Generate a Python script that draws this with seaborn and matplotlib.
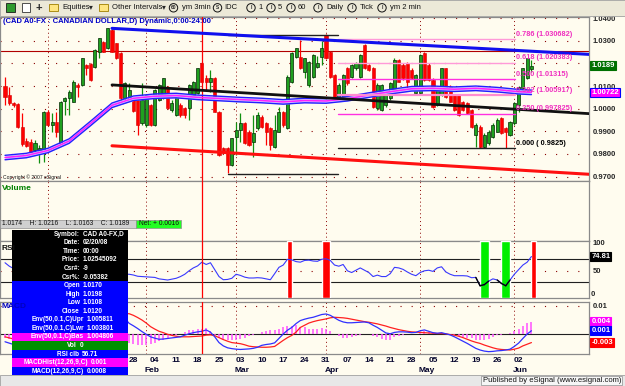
import numpy as np
import pandas as pd
import matplotlib
matplotlib.use("Agg")
import matplotlib.pyplot as plt
import seaborn as sns
from matplotlib.patches import Rectangle, Circle
from matplotlib.transforms import blended_transform_factory

# ---------------- data ----------------
dates = pd.bdate_range("2007-12-17", "2008-06-05")   # 124 daily bars

opens = [1.0102, 1.0060, 1.0024, 1.0019, 0.9921, 0.9857, 0.9854, 0.9817, 0.9807, 0.9817,
         0.9987, 0.9928, 0.9943, 0.9847, 1.0034, 1.0046, 1.0031, 1.0105, 1.0105, 1.0193,
         1.0196, 1.0186, 1.0252, 1.0296, 1.0267, 1.0348, 1.0289, 1.0245, 1.0046, 1.0046,
         1.0046, 1.0038, 0.9935, 0.9928, 1.0016, 0.9928, 1.0038, 1.0046, 1.0097, 0.9994,
         0.9972, 1.0016, 1.0002, 1.0002, 1.0060, 1.0068, 1.0200, 1.0134, 1.0119, 1.0134,
         0.9987, 0.9825, 0.9825, 0.9751, 0.9876, 0.9906, 0.9935, 0.9898, 0.9854, 0.9913,
         0.9965, 0.9935, 0.9913, 0.9832, 0.9898, 0.9987, 0.9913, 1.0119, 1.0230, 1.0230,
         1.0164, 1.0105, 1.0142, 1.0186, 1.0230, 1.0326, 1.0252, 1.0149, 1.0038, 1.0053,
         1.0178, 1.0142, 1.0178, 1.0142, 1.0281, 1.0193, 1.0178, 1.0002, 0.9994, 1.0016,
         1.0046, 1.0075, 1.0215, 1.0193, 1.0200, 1.0171, 1.0068, 1.0068, 1.0245, 1.0193,
         1.0127, 1.0016, 1.0060, 1.0178, 1.0097, 1.0060, 1.0060, 1.0031, 1.0024, 0.9994,
         0.9884, 0.9921, 0.9832, 0.9847, 0.9876, 0.9898, 0.9957, 0.9913, 0.9884, 0.9935,
         1.0016, 1.0090, 1.0134, 1.0174]
highs = [1.0142, 1.0097, 1.0028, 1.0024, 0.9979, 0.9869, 0.9866, 0.9862, 0.9840, 0.9990,
         0.9994, 0.9979, 0.9987, 1.0034, 1.0053, 1.0083, 1.0127, 1.0112, 1.0226, 1.0196,
         1.0200, 1.0262, 1.0314, 1.0299, 1.0358, 1.0351, 1.0292, 1.0249, 1.0119, 1.0112,
         1.0053, 1.0043, 1.0112, 1.0063, 1.0019, 1.0087, 1.0108, 1.0137, 1.0102, 1.0038,
         1.0063, 1.0024, 1.0009, 1.0108, 1.0122, 1.0181, 1.0208, 1.0149, 1.0171, 1.0142,
         0.9990, 0.9832, 0.9832, 0.9872, 0.9943, 0.9979, 0.9940, 0.9906, 0.9972, 0.9987,
         0.9972, 0.9943, 0.9921, 0.9972, 1.0009, 0.9990, 1.0149, 1.0252, 1.0270, 1.0304,
         1.0226, 1.0211, 1.0240, 1.0234, 1.0299, 1.0329, 1.0255, 1.0152, 1.0112, 1.0152,
         1.0186, 1.0196, 1.0208, 1.0240, 1.0284, 1.0196, 1.0186, 1.0112, 1.0108, 1.0078,
         1.0119, 1.0223, 1.0219, 1.0200, 1.0208, 1.0178, 1.0152, 1.0240, 1.0249, 1.0200,
         1.0134, 1.0101, 1.0181, 1.0181, 1.0105, 1.0063, 1.0063, 1.0034, 1.0028, 0.9997,
         0.9935, 0.9928, 0.9891, 0.9906, 0.9935, 0.9957, 0.9965, 0.9921, 0.9946, 1.0028,
         1.0101, 1.0181, 1.0226, 1.0216]
lows = [1.0016, 1.0016, 1.0009, 0.9913, 0.9837, 0.9832, 0.9807, 0.9810, 0.9758, 0.9766,
        0.9925, 0.9898, 0.9876, 0.9843, 0.9972, 0.9972, 1.0028, 1.0053, 1.0102, 1.0149,
        1.0122, 1.0178, 1.0223, 1.0249, 1.0264, 1.0249, 1.0220, 1.0038, 1.0038, 1.0038,
        0.9984, 0.9884, 0.9928, 0.9921, 0.9925, 0.9925, 1.0034, 1.0043, 0.9999, 0.9987,
        0.9969, 0.9965, 0.9957, 0.9950, 1.0057, 1.0063, 1.0112, 1.0083, 1.0075, 0.9984,
        0.9792, 0.9803, 0.9714, 0.9748, 0.9795, 0.9854, 0.9843, 0.9837, 0.9788, 0.9906,
        0.9913, 0.9840, 0.9817, 0.9828, 0.9895, 0.9921, 0.9910, 1.0112, 1.0225, 1.0175,
        1.0134, 1.0097, 1.0137, 1.0178, 1.0193, 1.0220, 1.0137, 1.0043, 1.0034, 1.0049,
        1.0105, 1.0134, 1.0171, 1.0137, 1.0175, 1.0167, 1.0002, 0.9994, 0.9990, 1.0009,
        1.0038, 1.0072, 1.0116, 1.0127, 1.0083, 1.0131, 1.0063, 1.0063, 1.0122, 1.0122,
        1.0005, 1.0013, 1.0057, 1.0049, 1.0028, 0.9990, 0.9969, 0.9990, 0.9975, 0.9916,
        0.9832, 0.9825, 0.9828, 0.9840, 0.9872, 0.9895, 0.9887, 0.9825, 0.9881, 0.9928,
        0.9987, 1.0086, 1.0131, 1.0163]
closes = [1.0053, 1.0024, 1.0016, 0.9921, 0.9843, 0.9837, 0.9810, 0.9847, 0.9825, 0.9987,
          0.9928, 0.9943, 0.9898, 1.0028, 1.0049, 1.0075, 1.0119, 1.0097, 1.0223, 1.0178,
          1.0127, 1.0259, 1.0311, 1.0252, 1.0355, 1.0252, 1.0223, 1.0046, 1.0112, 1.0083,
          0.9990, 0.9928, 1.0038, 1.0060, 0.9928, 1.0083, 1.0105, 1.0134, 1.0002, 1.0024,
          1.0060, 0.9972, 0.9972, 1.0105, 1.0119, 1.0178, 1.0119, 1.0119, 1.0134, 0.9987,
          0.9795, 0.9810, 0.9751, 0.9869, 0.9906, 0.9935, 0.9847, 0.9840, 0.9891, 0.9972,
          0.9921, 0.9898, 0.9840, 0.9906, 0.9987, 0.9928, 1.0142, 1.0245, 1.0267, 1.0178,
          1.0223, 1.0208, 1.0237, 1.0200, 1.0267, 1.0223, 1.0142, 1.0046, 1.0105, 1.0149,
          1.0112, 1.0193, 1.0200, 1.0237, 1.0178, 1.0171, 1.0009, 1.0105, 1.0105, 1.0068,
          1.0112, 1.0215, 1.0119, 1.0134, 1.0119, 1.0134, 1.0149, 1.0237, 1.0127, 1.0127,
          1.0009, 1.0097, 1.0178, 1.0053, 1.0031, 0.9994, 0.9972, 0.9994, 0.9979, 0.9921,
          0.9928, 0.9832, 0.9884, 0.9898, 0.9928, 0.9950, 0.9891, 0.9898, 0.9943, 1.0024,
          1.0097, 1.0178, 1.0223, 1.0189]

# Envelope(50, 0.1%) basis, read every fifth bar
env_days = [0, 5, 10, 15, 20, 25, 30, 35, 40, 45, 50, 55, 60, 65, 70, 75, 80, 85,
            90, 95, 100, 105, 110, 115, 120, 123]
env_basis = [0.9784, 0.9793, 0.9815, 0.9857, 0.9935, 1.0015, 1.0046, 1.0055, 1.0058,
             1.0050, 1.0045, 1.0040, 1.0036, 1.0030, 1.0036, 1.0034, 1.0044, 1.0060,
             1.0075, 1.0088, 1.0090, 1.0086, 1.0090, 1.0084, 1.0075, 1.00722]
env_pct = 0.001

rsi_values = [64, 58, 54, 45, 38, 37, 35, 38, 36, 52, 48, 49, 46, 58, 60, 61, 65, 63, 70, 68,
              64, 70, 73, 71, 75, 66, 60, 45, 44, 44, 42.7, 40.5, 40, 39.5, 39, 38.5, 36, 35,
              34, 35.5, 37, 40, 44, 50, 55, 58.5, 65, 61, 64, 52, 40, 34.5, 35, 37, 44, 42,
              39, 37.5, 37.5, 38, 37.5, 36, 34.5, 45, 56, 60, 70, 69, 66, 65, 68, 68.5, 67,
              66.5, 70, 71, 68, 60, 58, 61, 50, 47, 51, 55, 51, 47, 40, 42.5, 40, 40, 45, 56,
              55, 52.5, 48, 44, 41.5, 47, 50, 51, 49, 55, 57, 48, 44, 41.5, 41.5, 41.5, 41,
              38, 38.5, 24, 26, 32, 36, 34, 28, 24, 34, 44, 52, 60, 65, 74.81]
macd_values = [-0.0030, -0.0035, -0.0040, -0.0045, -0.0052, -0.0058, -0.0062, -0.0063, -0.0062,
               -0.0052, -0.0045, -0.0040, -0.0036, -0.0022, -0.0010, 0.0001, 0.0015, 0.0024,
               0.0040, 0.0050, 0.0055, 0.0067, 0.0078, 0.0083, 0.0092, 0.0090, 0.0085, 0.0068,
               0.0055, 0.0037, 0.0028, 0.0018, 0.0007, -0.0003, -0.0012, -0.0017, -0.0021,
               -0.0020, -0.0018, -0.0016, -0.0014, -0.0012, -0.0006, -0.0001, 0.0003, 0.0006,
               0.0008, 0.0013, 0.0005, -0.0012, -0.0033, -0.0045, -0.0052, -0.0055, -0.0057,
               -0.0058, -0.0057, -0.0056, -0.0054, -0.0050, -0.0043, -0.0040, -0.0038, -0.0034,
               -0.0018, -0.0002, 0.0012, 0.0022, 0.0036, 0.0047, 0.0052, 0.0056, 0.0059, 0.0064,
               0.0069, 0.0071, 0.0066, 0.0057, 0.0048, 0.0042, 0.0039, 0.0039, 0.0040, 0.0041,
               0.0042, 0.0039, 0.0030, 0.0022, 0.0012, 0.0002, -0.0001, 0.0004, 0.0006, 0.0006,
               0.0005, 0.0003, 0.0004, 0.0010, 0.0013, 0.0008, 0.0003, 0.0001, 0.0003, -0.0001,
               -0.0005, -0.0012, -0.0020, -0.0028, -0.0036, -0.0045, -0.0054, -0.0060, -0.0064,
               -0.0066, -0.0065, -0.0063, -0.0062, -0.0060, -0.0057, -0.0047, -0.0035, -0.0018,
               -0.0002, 0.0010]
macd_signal = [-0.0012, -0.0016, -0.0020, -0.0025, -0.0030, -0.0035, -0.0040, -0.0044, -0.0048,
               -0.0049, -0.0048, -0.0047, -0.0045, -0.0040, -0.0034, -0.0027, -0.0019, -0.0010,
               -0.0001, 0.0009, 0.0018, 0.0028, 0.0038, 0.0047, 0.0056, 0.0063, 0.0068, 0.0071,
               0.0072, 0.0072, 0.0066, 0.0058, 0.0049, 0.0038, 0.0025, 0.0016, 0.0008, 0.0003,
               -0.0003, -0.0007, -0.0010, -0.0012, -0.0012, -0.0012, -0.0011, -0.0010, -0.0009,
               -0.0006, -0.0005, -0.0008, -0.0015, -0.0022, -0.0028, -0.0033, -0.0035, -0.0037,
               -0.0041, -0.0046, -0.0048, -0.0049, -0.0050, -0.0050, -0.0049, -0.0047, -0.0036,
               -0.0025, -0.0015, -0.0007, 0.0005, 0.0022, 0.0030, 0.0038, 0.0043, 0.0047, 0.0050,
               0.0053, 0.0057, 0.0059, 0.0058, 0.0057, 0.0055, 0.0052, 0.0049, 0.0046, 0.0043,
               0.0041, 0.0038, 0.0035, 0.0031, 0.0027, 0.0022, 0.0018, 0.0014, 0.0011, 0.0008,
               0.0006, 0.0005, 0.0004, 0.0003, 0.0002, 0.0001, 0.0000, 0.0000, -0.0001, -0.0004,
               -0.0006, -0.0010, -0.0015, -0.0021, -0.0027, -0.0032, -0.0036, -0.0042, -0.0047,
               -0.0052, -0.0056, -0.0058, -0.0059, -0.0060, -0.0057, -0.0053, -0.0045, -0.0039,
               -0.0033]

# drawing-tool objects on the price panel (bar index, price)
trend_days = [25, 136.5]
trend_blue = [1.0355, 1.0240]
trend_black = [1.0105, 0.9978]
trend_red = [0.9836, 0.9710]
resistance_level = 1.0256
range_days = [52, 77.8]
range_levels = [1.0325, 0.9710]
fib_days = [77.8, 119.2]
fib_ratios = [0.786, 0.618, 0.500, 0.382, 0.250, 0.000]
fib_prices = [1.030682, 1.020383, 1.01315, 1.005917, 0.997825, 0.9825]

# RSI signal bars (bar index start, end)
signal_start = [66, 74, 111, 116, 123]
signal_end = [67, 76, 113, 118, 124]
signal_kind = ["sell", "sell", "buy", "buy", "sell"]

cursor_date = "2008-02-19"
first_visible_week = "2008-01-28"
price_ticks = [0.97, 0.98, 0.99, 1.00, 1.01, 1.02, 1.03, 1.04]
rsi_ticks = [100, 50]
rsi_levels = [70, 30]
macd_ticks = [0.01, 0.0]

title_text = "(CAD A0-FX : CANADIAN DOLLAR,D) Dynamic,0:00-24:00"
net_text = "Net: + 0.0016"
tooltip_labels = ["Symbol:", "Date:", "Time:", "Price:", "Csr#:", "Csr%:", "Open", "High",
                  "Low", "Close", "Env(50,0.1,C)Upr", "Env(50,0.1,C)Lwr", "Env(50,0.1,C)Bas",
                  "Vol", "RSI clb", "MACDHist(12,26,9,C)", "MACD(12,26,9,C)"]
tooltip_values = ["CAD A0-FX,D", "02/20/08", "00:00", "1.02545092", "-9", "-0.05382",
                  "1.0170", "1.0198", "1.0108", "1.0120", "1.005811", "1.003801", "1.004806",
                  "0", "56.71", "0.001", "0.0008"]
toolbar_items = ["Equities", "Other Intervals", "ym 3min", "IDC", "1", "5", "60", "Daily",
                 "Tick", "ym 2 min"]

# ---------------- figure ----------------
sns.set_theme(style="white")
plt.rcParams['font.family'] = ['Liberation Sans', 'DejaVu Sans']

W, H = 625, 386
BG = '#fffcef'
fig = plt.figure(figsize=(W / 100, H / 100), dpi=100)
fig.patch.set_facecolor(BG)


def px_axes(x0, y0, x1, y1, **kw):
    return fig.add_axes([x0 / W, 1 - y1 / H, (x1 - x0) / W, (y1 - y0) / H], **kw)


XL = (-1.17, 136.45)
ax_p = px_axes(0, 17, 589, 181)
ax_v = px_axes(0, 181, 589, 241)
ax_r = px_axes(0, 241, 589, 298.3)
ax_m = px_axes(0, 301.7, 589, 354.3)
panels = [ax_p, ax_v, ax_r, ax_m]

idx = np.arange(len(closes))
o, h, l, c = (np.array(v) for v in (opens, highs, lows, closes))
month_ends = [i for i in range(len(dates) - 1) if dates[i].month != dates[i + 1].month]
cursor_i = dates.get_loc(pd.Timestamp(cursor_date))
first_i = dates.get_loc(pd.Timestamp(first_visible_week))
GRID = '#8b0000'

for ax in panels:
    ax.set_facecolor(BG)
    for s in ax.spines.values():
        s.set_color('#8a8a8a')
        s.set_linewidth(0.9)
    for m in month_ends:
        ax.axvline(m, color=GRID, ls=(0, (1, 3)), lw=0.7, zorder=1)
    ax.axvline(cursor_i, color='#ff0000', lw=0.9, zorder=6)

# ----- price panel -----
for p in price_ticks:
    ax_p.axhline(p, color=GRID, ls=(0, (1, 9)), lw=0.8, zorder=1)
ax_p.axhline(resistance_level, color='#b00000', lw=0.8, zorder=2)

up = c >= o
dn = ~up
ax_p.vlines(idx[up], l[up], h[up], color='#109010', lw=0.9, zorder=3)
ax_p.vlines(idx[dn], l[dn], h[dn], color='#ff0000', lw=0.9, zorder=3)
body_lo = np.minimum(o, c)
body_h = np.maximum(np.abs(c - o), 0.00035)
ax_p.bar(idx[up], body_h[up], bottom=body_lo[up], width=0.72, color='#1fa01f',
         edgecolor='#062806', linewidth=0.5, zorder=4)
ax_p.bar(idx[dn], body_h[dn], bottom=body_lo[dn], width=0.72, color='#ff0000',
         edgecolor='#d00000', linewidth=0.4, zorder=4)

# envelope
ed = np.array(env_days)
eb = np.array(env_basis)
ax_p.fill_between(ed, eb * (1 - env_pct), eb * (1 + env_pct), color='#d4c4ff', zorder=5, lw=0)
sns.lineplot(x=ed, y=eb * (1 + env_pct), ax=ax_p, color='#2020ff', linewidth=1.0, zorder=6)
sns.lineplot(x=ed, y=eb * (1 - env_pct), ax=ax_p, color='#2020ff', linewidth=1.0, zorder=6)
sns.lineplot(x=ed, y=eb, ax=ax_p, color='#ff20ff', linewidth=1.1, zorder=6)

# trend lines
sns.lineplot(x=trend_days, y=trend_blue, ax=ax_p, color='#1010ee', linewidth=2.2, zorder=7)
sns.lineplot(x=trend_days, y=trend_black, ax=ax_p, color='#101010', linewidth=2.0, zorder=7)
sns.lineplot(x=trend_days, y=trend_red, ax=ax_p, color='#ff1010', linewidth=2.2, zorder=7)
for lev in range_levels:
    ax_p.plot(range_days, [lev, lev], color='#202020', lw=1.0, zorder=6)

# fibonacci
fib_line_col = ['#ff9ad8', '#ff9ad8', '#ff30e0', '#ff8cd0', '#ff30e0', '#202020']
fib_text_col = ['#f030c0', '#f030c0', '#f030c0', '#f030c0', '#f030c0', '#000000']
fib_lw = [1.0, 1.0, 1.0, 1.6, 1.0, 1.0]
for r, pz, lc, tc, lw in zip(fib_ratios, fib_prices, fib_line_col, fib_text_col, fib_lw):
    ax_p.plot(fib_days, [pz, pz], color=lc, lw=lw, zorder=6)
    ptxt = f"{pz}" if pz >= 0.99 else f" {pz}"
    ax_p.text(fib_days[1] + 0.1, pz + 0.0006, f"{r:.3f} ({ptxt})", color=tc, fontsize=5.3,
              fontweight='bold', ha='left', va='bottom', zorder=8)

ax_p.set_xlim(XL)
ax_p.set_ylim(0.96803, 1.04052)

# ----- RSI panel -----
rs = np.array(rsi_values, dtype=float)
ax_r.axhline(50, color=GRID, ls=(0, (1, 9)), lw=0.8, zorder=1)
for lv in rsi_levels:
    ax_r.axhline(lv, color='#202020', lw=0.8, zorder=2)
for s0, s1, k in zip(signal_start, signal_end, signal_kind):
    ax_r.bar(s0, 100, bottom=2.2, width=s1 - s0, align='edge',
             color='#ff0000' if k == 'sell' else '#00ee00', zorder=3)
sns.lineplot(x=idx, y=rs, ax=ax_r, color='#3838ff', linewidth=0.8, zorder=4)
for i in range(len(rs) - 1):
    if min(rs[i], rs[i + 1]) < 30:
        ax_r.plot([i, i + 1], [rs[i], rs[i + 1]], color='#000000', lw=1.0, zorder=5)
ax_r.set_xlim(XL)
ax_r.set_ylim(2.2, 101.8)

# ----- MACD panel -----
mv = np.array(macd_values)
sv = np.array(macd_signal)
hist = mv - sv
ax_m.axhline(0.01, color=GRID, ls=(0, (1, 9)), lw=0.8, zorder=1)
ax_m.axhline(0.0, color='#202020', lw=0.8, zorder=2)
ax_m.vlines(idx, 0, hist, color='#ff50ff', lw=1.1, zorder=3)
sns.lineplot(x=idx, y=sv, ax=ax_m, color='#ff2020', linewidth=0.9, zorder=4)
sns.lineplot(x=idx, y=mv, ax=ax_m, color='#3030ff', linewidth=0.9, zorder=5)
ax_m.set_xlim(XL)
ax_m.set_ylim(-0.00756, 0.01156)

ax_v.set_xlim(XL)
ax_v.set_ylim(0, 1)

# ----- axis labels -----
for ax in panels:
    ax.set_xlabel('')
    ax.set_ylabel('')
    ax.yaxis.tick_right()
    ax.tick_params(axis='y', right=False, left=False, labelright=True, labelleft=False,
                   length=0, pad=2.5, labelsize=5.5)
    ax.tick_params(axis='x', bottom=False, labelbottom=False, length=0)

ax_p.set_yticks(price_ticks, [f"{t:.4f}" for t in price_ticks])
ax_v.set_yticks([])
ax_r.set_yticks(rsi_ticks, [f"{t:g}" for t in rsi_ticks])
ax_m.set_yticks(macd_ticks, [f"{t:g}" for t in macd_ticks])
for ax in panels:
    for t in ax.get_yticklabels():
        t.set_fontweight('bold')

ax_r.text(1.0, 0.0, " 0", transform=ax_r.transAxes, fontsize=5.5, fontweight='bold',
          ha='left', va='bottom')

week_idx = [i for i, d in enumerate(dates) if d.weekday() == 0 and i >= first_i]
ax_m.set_xticks(week_idx, [dates[i].strftime('%d') for i in week_idx])
ax_m.tick_params(axis='x', labelbottom=True, pad=2.2, labelsize=6, labelcolor='#06062e')
for t in ax_m.get_xticklabels():
    t.set_fontweight('bold')
month_first = [i + 1 for i in month_ends if i + 1 >= first_i]
trans_m = blended_transform_factory(ax_m.transData, ax_m.transAxes)
for i in month_first:
    ax_m.text(i + 0.4, -0.30, dates[i].strftime('%b'), transform=trans_m, fontsize=6,
              fontweight='bold', color='#06062e', ha='center', va='center')


def value_box(ax, y, text, fc, ec=None):
    ax.text(1.004, y, text, transform=ax.get_yaxis_transform(), ha='left', va='center',
            fontsize=5.5, fontweight='bold', color='white', zorder=20, clip_on=False,
            bbox=dict(boxstyle='square,pad=0.12', fc=fc, ec=ec or fc, lw=0.8))


value_box(ax_p, c[-1], f"{c[-1]:.4f}", '#007000')
value_box(ax_p, eb[-1], f"{eb[-1]:.5f}", '#ff00ff', '#0000ff')
value_box(ax_r, rs[-1], f"{rs[-1]:.2f}", '#000000')
value_box(ax_m, hist[-1], f"{hist[-1]:.3f}", '#ff00ff')
value_box(ax_m, mv[-1], f"{mv[-1]:.3f}", '#0000ff')
value_box(ax_m, sv[-1], f"{sv[-1]:.3f}", '#ff0000')

# ----- overlay: toolbar, labels, status bar, tooltip -----
ov = fig.add_axes([0, 0, 1, 1], zorder=10)
ov.set_xlim(0, W)
ov.set_ylim(H, 0)
ov.axis('off')

ov.add_patch(Rectangle((0, 0), W, 15.5, fc='#ece9d8', ec='#a0a0a0', lw=0.6))
ov.add_patch(Rectangle((6, 3), 9, 9, fc='#2e9a2e', ec='#1a1a1a', lw=0.6))
ov.add_patch(Rectangle((22, 3), 8, 9, fc='white', ec='#333333', lw=0.6))
ov.text(38.5, 7.8, "+", fontsize=8, fontweight='bold', ha='center', va='center')
tb_x = [62, 112, 182, 224, 258, 278, 298, 326, 360, 390]
circ_x = [None, None, 173.5, 217.5, 251, 271, 291, 318, 352, 382]
circ_t = [None, None, "60", "S", "I", "I", "I", "I", "I", "I"]
for txt, tx, cx, ct in zip(toolbar_items, tb_x, circ_x, circ_t):
    ov.text(tx, 7.8, txt, fontsize=5.5, ha='left', va='center', color='#111111')
    if cx is not None:
        ov.add_patch(Circle((cx, 7.8), 4.2, fc='#ece9d8', ec='#111111', lw=0.7))
        ov.text(cx, 7.9, ct, fontsize=3.5, fontweight='bold', ha='center', va='center')
for fx in (49, 99):
    ov.add_patch(Rectangle((fx, 4), 9, 7, fc='#ffe680', ec='#a08000', lw=0.6))
ov.text(89, 7.8, "\u25be", fontsize=5.5, ha='left', va='center')
ov.text(162, 7.8, "\u25be", fontsize=5.5, ha='left', va='center')

ov.text(3, 21.5, title_text, fontsize=5.5, fontweight='bold', color='#0000c8',
        ha='left', va='center')
ov.text(3, 177.5, "Copyright \u00a9 2007 eSignal", fontsize=3.6, ha='left', va='center',
        color='#111111')
ov.text(2, 189, "Volume", fontsize=6, fontweight='bold', color='#008000', ha='left', va='center')
ov.text(2, 248, "RSI", fontsize=6, fontweight='bold', color='#111111', ha='left', va='center')
ov.text(2, 306, "MACD", fontsize=6, fontweight='bold', color='#0000c0', ha='left', va='center')

# status bar
ov.add_patch(Rectangle((0, 219.5), 136, 8.3, fc='#d0d0d0', ec='#909090', lw=0.5))
ov.add_patch(Rectangle((136, 219.5), 45, 8.3, fc='#22ff22', ec='#909090', lw=0.5))
ov.text(2, 223.7, f"{o[-1]:.4f}    H: {h[-1]:.4f}    L: {l[-1]:.4f}    C: {c[-1]:.4f}",
        fontsize=4.8, ha='left', va='center', color='#111111')
ov.text(139, 223.7, net_text, fontsize=4.8, ha='left', va='center', color='#111111')

# tooltip
row_bg = ['#000000'] * 6 + ['#0000ff'] * 6 + ['#ff00ff', '#009000', '#0000ff', '#ff00ff', '#0000ff']
label_right = [80] * 10 + [84, 84, 84, 77, 79, 88, 84]
for k, (lab, val, bg, xr) in enumerate(zip(tooltip_labels, tooltip_values, row_bg, label_right)):
    yc = 234.3 + 8.55 * k
    ov.add_patch(Rectangle((12, yc - 4.3), 116, 8.6, fc=bg, ec='none'))
    ov.text(xr, yc, lab, fontsize=4.7, fontweight='bold', color='white', ha='right', va='center')
    ov.text(xr + 3, yc, val, fontsize=4.7, fontweight='bold', color='white', ha='left',
            va='center')

# bottom bar
ov.add_patch(Rectangle((0, 374.5), W, 12, fc='#e8e8e8', ec='#a0a0a0', lw=0.6))
ov.text(621, 380.5, "Published by eSignal (www.esignal.com)", fontsize=5.5, ha='right',
        va='center', color='#111111',
        bbox=dict(boxstyle='square,pad=0.15', fc='#f6f6f6', ec='#909090', lw=0.5))

fig.savefig("out.png", dpi=100, facecolor=fig.get_facecolor())
